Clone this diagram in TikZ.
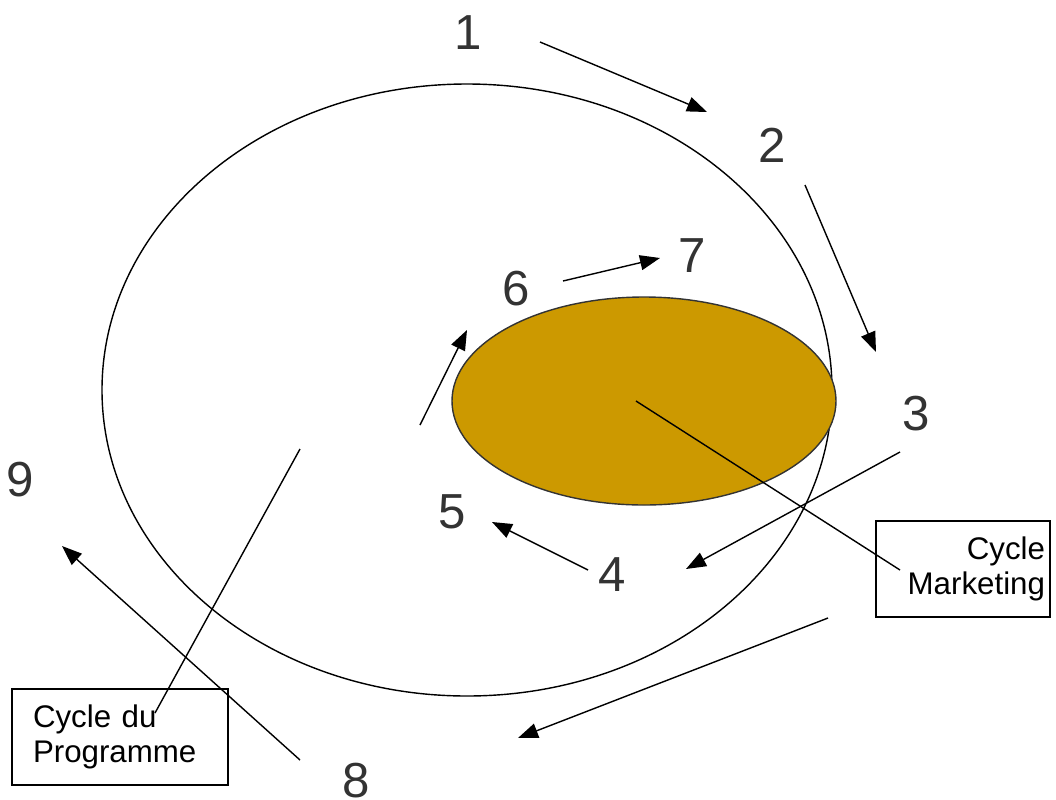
\documentclass[tikz,border=0pt]{standalone}
\usepackage{fontspec}
\setmainfont{Liberation Sans}
\usetikzlibrary{arrows.meta}
\definecolor{gold}{HTML}{CC9900}
\definecolor{numgray}{HTML}{333333}
\tikzset{
  num/.style={text=numgray,font=\fontsize{28}{32}\selectfont,inner sep=0pt},
  arr/.style={-{Triangle[length=0.4cm,width=0.3cm]},line width=0.8pt},
  plain/.style={line width=0.8pt},
  lbox/.style={draw,line width=0.8pt,font=\fontsize{17.8}{19.6}\selectfont,minimum height=1.92cm}
}
\begin{document}
\begin{tikzpicture}
\useasboundingbox (0,0) rectangle (21.12,-15.98);
% ellipses
\draw[line width=0.8pt] (9.34,-7.80) ellipse [x radius=7.30cm, y radius=6.12cm];
\draw[fill=gold,draw=numgray,line width=0.8pt] (12.88,-8.02) ellipse [x radius=3.84cm, y radius=2.08cm];
\coordinate (mc) at (12.72,-8.02);
% numbers
\node[num] (n1) at (9.36,-0.66) {1};
\node[num] (n2) at (15.44,-2.90) {2};
\node[num] (n3) at (18.32,-8.28) {3};
\node[num] (n4) at (12.24,-11.50) {4};
\node[num] (n5) at (9.04,-10.24) {5};
\node[num] (n6) at (10.32,-5.78) {6};
\node[num] (n7) at (13.84,-5.12) {7};
\node[num] (n8) at (7.12,-15.62) {8};
\node[num] (n9) at (0.40,-9.60) {9};
% boxes
\node[lbox,text width=3.28cm,align=right,inner xsep=0.1cm] (bm) at (19.26,-11.38) {Cycle\\Marketing};
\node[lbox,text width=3.48cm,align=left,inner xsep=0.42cm] (bp) at (2.40,-14.74) {Cycle du\\Programme};
% arrow endpoints
\coordinate (a1s) at (10.80,-0.84); \coordinate (a1e) at (14.14,-2.24);
\coordinate (a2s) at (16.10,-3.70); \coordinate (a2e) at (17.52,-7.04);
\coordinate (a3s) at (18.00,-9.04); \coordinate (a3e) at (13.72,-11.38);
\coordinate (a4s) at (11.76,-11.40); \coordinate (a4e) at (9.84,-10.44);
\coordinate (a5s) at (8.40,-8.50); \coordinate (a5e) at (9.34,-6.60);
\coordinate (a6s) at (11.26,-5.62); \coordinate (a6e) at (13.20,-5.16);
\coordinate (a7s) at (16.56,-12.36); \coordinate (a7e) at (10.36,-14.76);
\coordinate (a8s) at (6.00,-15.20); \coordinate (a8e) at (1.24,-10.92);
\draw[arr] (a1s) -- (a1e);
\draw[arr] (a2s) -- (a2e);
\draw[arr] (a3s) -- (a3e);
\draw[arr] (a4s) -- (a4e);
\draw[arr] (a5s) -- (a5e);
\draw[arr] (a6s) -- (a6e);
\draw[arr] (a7s) -- (a7e);
\draw[arr] (a8s) -- (a8e);
% label lines
\coordinate (mk) at (18.00,-11.40);
\coordinate (pgs) at (6.00,-8.98);
\coordinate (pge) at (3.10,-14.26);
\draw[plain] (mc) -- (mk);
\draw[plain] (pgs) -- (pge);
\end{tikzpicture}
\end{document}
